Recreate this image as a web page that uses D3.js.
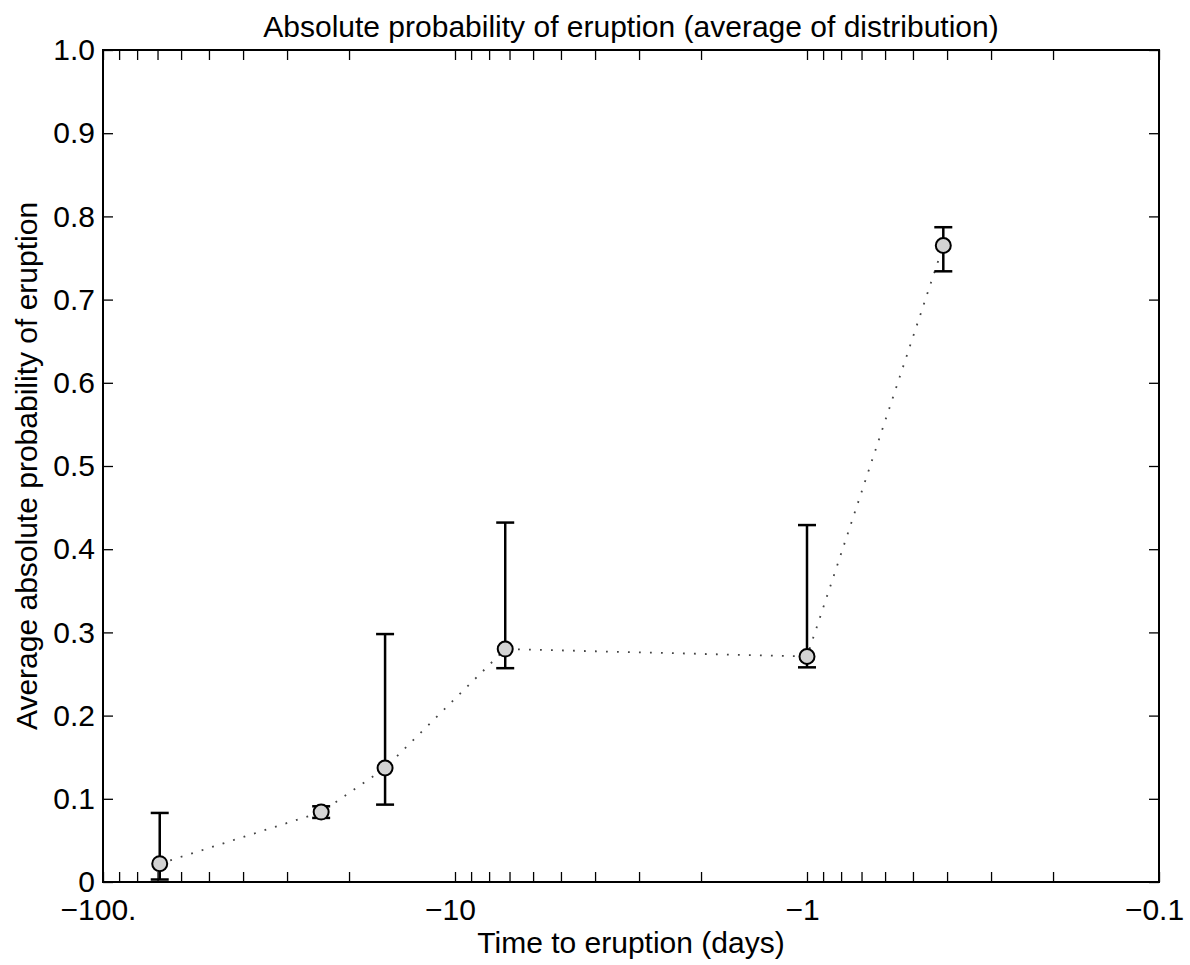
<!DOCTYPE html>
<html>
<head>
<meta charset="utf-8">
<script src="https://cdn.jsdelivr.net/npm/d3@7"></script>
<style>
  body { margin: 0; background: #fff; }
  svg text { font-family: "Liberation Sans", Arial, Helvetica, sans-serif; fill: #000; }
  .axis path { display: none; }
  .axis line { stroke: #000; stroke-width: 1.3; }
</style>
</head>
<body>
<div id="div_id_main"></div>
<script>

// data
var vDays = [-69, -24, -15.8, -7.2, -1, -0.41];
var vMean = [0.022, 0.084, 0.137, 0.280, 0.271, 0.765];
var vLower = [0.003, 0.077, 0.093, 0.257, 0.258, 0.734];
var vUpper = [0.083, 0.091, 0.298, 0.432, 0.429, 0.787];

var vYTicks = [0, 0.1, 0.2, 0.3, 0.4, 0.5, 0.6, 0.7, 0.8, 0.9, 1.0];
var vXMajor = [100, 10, 1, 0.1];
var vXMajorLabels = ["\u2212100.", "\u221210", "\u22121", "\u22120.1"];

var sTitle = "Absolute probability of eruption (average of distribution)";
var sXLabel = "Time to eruption (days)";
var sYLabel = "Average absolute probability of eruption";

var WIDTH = 1190;
var HEIGHT = 965;
var PLOT_LEFT = 103;
var PLOT_RIGHT = 1159;
var PLOT_TOP = 50;
var PLOT_BOTTOM = 882;
var TICK_LEN = 10;
var FONT_SIZE = "30px";

function funcDraw_Main() {

	let svgMain = d3.select("#div_id_main")
					.append("svg")
						.attr("width", WIDTH)
						.attr("height", HEIGHT);

	svgMain.append("rect")
				.attr("width", WIDTH)
				.attr("height", HEIGHT)
				.attr("fill", "#fff");

	// magnitude of days on a log scale, big values on the left
	let fScale_X = d3.scaleLog()
						.domain([100, 0.1])
						.range([PLOT_LEFT, PLOT_RIGHT]);

	let fScale_Y = d3.scaleLinear()
						.domain([0, 1])
						.range([PLOT_BOTTOM, PLOT_TOP]);

	let vXTicks = fScale_X.ticks();

	let fFormat_X = function (d) {
		let i = vXMajor.findIndex(function (m) { return Math.abs(m - d) < 1e-9; });
		return (i >= 0) ? vXMajorLabels[i] : "";
	};

	// ---------------------------------------------------------------

	let axisBottom = d3.axisBottom(fScale_X)
						.tickValues(vXTicks)
						.tickSize(-TICK_LEN)
						.tickPadding(17)
						.tickFormat(fFormat_X);

	svgMain.append("g")
				.attr("class", "axis")
				.attr("transform", "translate(0," + PLOT_BOTTOM + ")")
				.call(axisBottom)
				.selectAll("text")
					.attr("font-size", FONT_SIZE)
					.attr("dx", "-5");

	svgMain.append("g")
				.attr("class", "axis")
				.attr("transform", "translate(0," + PLOT_TOP + ")")
				.call(d3.axisTop(fScale_X).tickValues(vXTicks).tickSize(-TICK_LEN).tickFormat(""));

	let axisLeft = d3.axisLeft(fScale_Y)
						.tickValues(vYTicks)
						.tickSize(-TICK_LEN)
						.tickPadding(8)
						.tickFormat(function (d) { return d === 0 ? "0" : d3.format(".1f")(d); });

	svgMain.append("g")
				.attr("class", "axis")
				.attr("transform", "translate(" + PLOT_LEFT + ",0)")
				.call(axisLeft)
				.selectAll("text")
					.attr("font-size", FONT_SIZE);

	svgMain.append("g")
				.attr("class", "axis")
				.attr("transform", "translate(" + PLOT_RIGHT + ",0)")
				.call(d3.axisRight(fScale_Y).tickValues(vYTicks).tickSize(-TICK_LEN).tickFormat(""));

	svgMain.append("rect")
				.attr("x", PLOT_LEFT)
				.attr("y", PLOT_TOP)
				.attr("width", PLOT_RIGHT - PLOT_LEFT)
				.attr("height", PLOT_BOTTOM - PLOT_TOP)
				.attr("fill", "none")
				.attr("stroke", "#000")
				.attr("stroke-width", 2);

	// ---------------------------------------------------------------

	let dsPoints = vDays.map(function (d, i) {
		return {"day": d, "mean": vMean[i], "lower": vLower[i], "upper": vUpper[i]};
	});

	let line = d3.line()
					.x(function (d) { return fScale_X(-d.day); })
					.y(function (d) { return fScale_Y(d.mean); });

	svgMain.append("path")
				.datum(dsPoints)
				.attr("d", line)
				.attr("fill", "none")
				.attr("stroke", "#444")
				.attr("stroke-width", 1.8)
				.attr("stroke-dasharray", "1.8,9.2");

	let gErr = svgMain.selectAll("g.g_class_err")
						.data(dsPoints)
						.enter()
						.append("g")
							.attr("class", "g_class_err");

	gErr.append("line")
			.attr("x1", function (d) { return fScale_X(-d.day); })
			.attr("x2", function (d) { return fScale_X(-d.day); })
			.attr("y1", function (d) { return fScale_Y(d.lower); })
			.attr("y2", function (d) { return fScale_Y(d.upper); })
			.attr("stroke", "#000")
			.attr("stroke-width", 2.5);

	["lower", "upper"].forEach(function (sKey) {
		gErr.append("line")
				.attr("x1", function (d) { return fScale_X(-d.day) - 9; })
				.attr("x2", function (d) { return fScale_X(-d.day) + 9; })
				.attr("y1", function (d) { return fScale_Y(d[sKey]); })
				.attr("y2", function (d) { return fScale_Y(d[sKey]); })
				.attr("stroke", "#000")
				.attr("stroke-width", 2.5);
	});

	gErr.append("circle")
			.attr("cx", function (d) { return fScale_X(-d.day); })
			.attr("cy", function (d) { return fScale_Y(d.mean); })
			.attr("r", 7.5)
			.attr("fill", "#d3d3d3")
			.attr("stroke", "#000")
			.attr("stroke-width", 2);

	// ---------------------------------------------------------------

	svgMain.append("text")
				.attr("x", (PLOT_LEFT + PLOT_RIGHT) / 2)
				.attr("y", 37)
				.attr("text-anchor", "middle")
				.attr("font-size", FONT_SIZE)
				.text(sTitle);

	svgMain.append("text")
				.attr("x", (PLOT_LEFT + PLOT_RIGHT) / 2)
				.attr("y", 953)
				.attr("text-anchor", "middle")
				.attr("font-size", FONT_SIZE)
				.text(sXLabel);

	svgMain.append("text")
				.attr("transform", "translate(37," + ((PLOT_TOP + PLOT_BOTTOM) / 2) + ") rotate(-90)")
				.attr("text-anchor", "middle")
				.attr("font-size", FONT_SIZE)
				.text(sYLabel);
}

funcDraw_Main();

</script>
</body>
</html>
